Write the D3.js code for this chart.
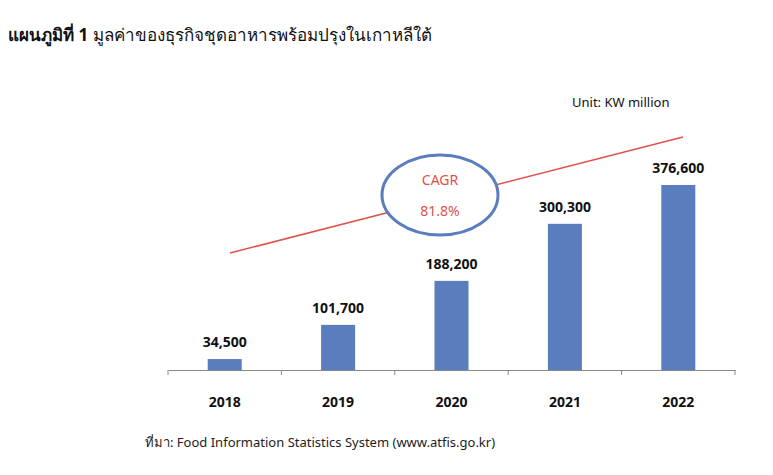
<!DOCTYPE html>
<html><head><meta charset="utf-8">
<script src="https://cdn.jsdelivr.net/npm/d3@7"></script>
<style>body{margin:0;background:#fff;font-family:"Noto Sans","Open Sans",sans-serif}</style>
</head><body>
<svg id="chart" width="773" height="475"></svg>
<script>
var years = ["2018", "2019", "2020", "2021", "2022"];
var values = [34500, 101700, 188200, 300300, 376600];
var valueLabels = ["34,500", "101,700", "188,200", "300,300", "376,600"];

var svg = d3.select("#chart");
var x = d3.scaleBand().domain(years).range([168, 735]).paddingInner(0.7).paddingOuter(0.35);
var y = d3.scaleLinear().domain([13000, 376600]).range([370, 185]);

// title
var t = svg.append("text").attr("x", 8).attr("y", 41).attr("font-size", 17).attr("fill", "#111");
t.append("tspan").attr("font-weight", "bold").text("แผนภูมิที่ 1 ");
t.append("tspan").text("มูลค่าของธุรกิจชุดอาหารพร้อมปรุงในเกาหลีใต้");

svg.append("text").attr("x", 572).attr("y", 107).attr("font-size", 13).attr("fill", "#111").text("Unit: KW million");

// bars
svg.selectAll("rect.bar").data(values).enter().append("rect")
    .attr("class", "bar")
    .attr("x", function(d, i){ return x(years[i]); })
    .attr("width", x.bandwidth())
    .attr("y", function(d){ return y(d); })
    .attr("height", function(d){ return 370 - y(d); })
    .attr("fill", "#5a7dbd");

svg.selectAll("text.val").data(values).enter().append("text")
    .attr("x", function(d, i){ return x(years[i]) + x.bandwidth() / 2; })
    .attr("y", function(d){ return y(d) - 12; })
    .attr("text-anchor", "middle").attr("font-size", 14).attr("font-weight", "bold").attr("fill", "#111")
    .text(function(d, i){ return valueLabels[i]; });

// axis
var axis = svg.append("g").attr("transform", "translate(0,370)")
    .call(d3.axisBottom(x).tickSize(0).tickPadding(27));
axis.select(".domain").attr("stroke", "#888");
axis.selectAll("text").attr("font-size", 14).attr("font-weight", "bold").attr("fill", "#111")
    .attr("font-family", "'Noto Sans',sans-serif");
svg.selectAll("line.tick").data(d3.range(6)).enter().append("line")
    .attr("x1", function(i){ return 168 + i * (567 / 5); })
    .attr("x2", function(i){ return 168 + i * (567 / 5); })
    .attr("y1", 370).attr("y2", 375).attr("stroke", "#888");

// CAGR trend
svg.append("line").attr("x1", 230).attr("y1", 253).attr("x2", 683).attr("y2", 137)
    .attr("stroke", "#e0514a").attr("stroke-width", 1.5);
svg.append("ellipse").attr("cx", 440).attr("cy", 195).attr("rx", 58).attr("ry", 40)
    .attr("fill", "#fff").attr("stroke", "#5a7dbd").attr("stroke-width", 3);
svg.append("text").attr("x", 440).attr("y", 185).attr("text-anchor", "middle")
    .attr("font-size", 14).attr("fill", "#e0514a").text("CAGR");
svg.append("text").attr("x", 440).attr("y", 216).attr("text-anchor", "middle")
    .attr("font-size", 14).attr("fill", "#e0514a").text("81.8%");

svg.append("text").attr("x", 145).attr("y", 447).attr("font-size", 13).attr("fill", "#222")
    .text("ที่มา: Food Information Statistics System (www.atfis.go.kr)");
</script>
</body></html>
